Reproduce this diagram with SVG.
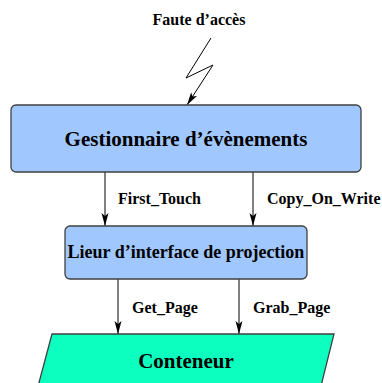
<svg xmlns="http://www.w3.org/2000/svg" width="382" height="383" viewBox="0 0 382 383">
<style>
.box{fill:#a0c8ff;stroke:#404040;stroke-width:1.3}
.cont{fill:#0cffbf;stroke:#404040;stroke-width:1.3}
.t{font-family:"Liberation Serif",serif;font-weight:bold;fill:#000}
.big{font-size:21px;text-anchor:middle}
.mid{font-size:18px;text-anchor:middle}
.lbl{font-size:16px}
.c{fill:none;stroke:#000;stroke-width:1}
</style>
<defs>
<marker id="ah" markerWidth="14" markerHeight="8" refX="13" refY="4" orient="auto" markerUnits="userSpaceOnUse">
<path d="M0,0.5 L13,4 L0,7.5 L3,4 Z" fill="#000"/>
</marker>
</defs>
<g id="faute">
<text class="t lbl" x="199" y="25" text-anchor="middle">Faute d’accès</text>
</g>
<g id="connectors">
<polyline class="c" points="211,38 186,78 213,65 187,105" marker-end="url(#ah)"/>
<line class="c" x1="105" y1="172" x2="105" y2="226" marker-end="url(#ah)"/>
<line class="c" x1="253" y1="172" x2="253" y2="226" marker-end="url(#ah)"/>
<line class="c" x1="118" y1="279" x2="118" y2="334" marker-end="url(#ah)"/>
<line class="c" x1="239" y1="279" x2="239" y2="334" marker-end="url(#ah)"/>
<text class="t lbl" x="118" y="204">First_Touch</text>
<text class="t lbl" x="267" y="204">Copy_On_Write</text>
<text class="t lbl" x="132" y="313">Get_Page</text>
<text class="t lbl" x="253" y="313">Grab_Page</text>
</g>
<g id="gestionnaire">
<rect class="box" x="11" y="105" width="350" height="67" rx="5"/>
<text class="t big" x="186" y="146">Gestionnaire d’évènements</text>
</g>
<g id="lieur">
<rect class="box" x="65" y="226" width="242" height="53" rx="5"/>
<text class="t mid" x="186" y="258">Lieur d’interface de projection</text>
</g>
<g id="conteneur">
<polygon class="cont" points="52,334 334,334 320,390 37,390"/>
<text class="t big" x="186" y="368">Conteneur</text>
</g>
</svg>
